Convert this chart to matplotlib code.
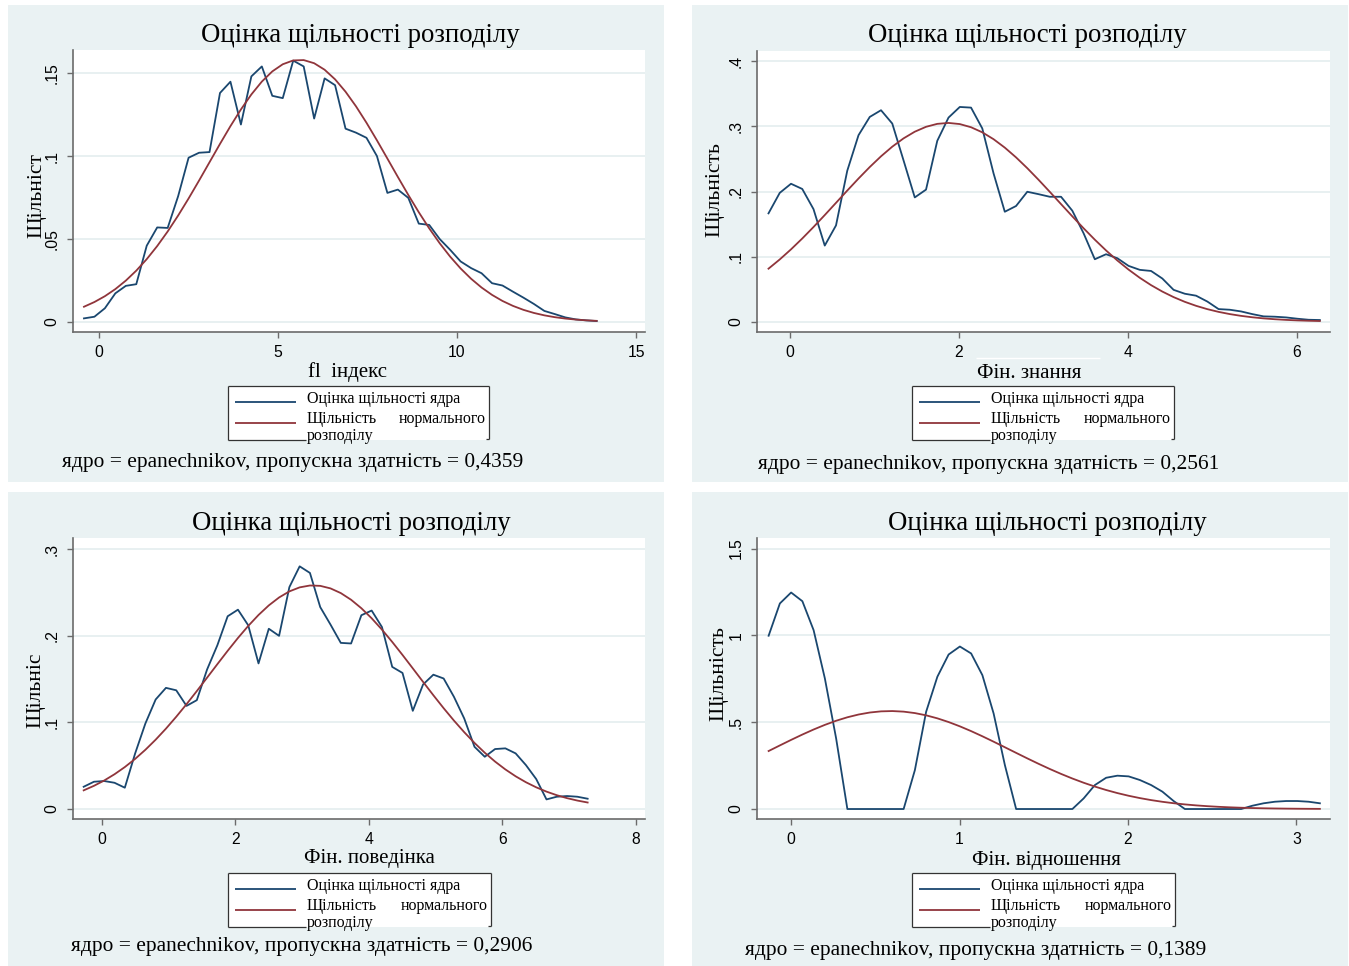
import numpy as np
import matplotlib
matplotlib.use('Agg')
import matplotlib.pyplot as plt
from matplotlib.patches import Rectangle

W, H = 1349, 966
BG = '#eaf2f3'
BLUE = '#1a476f'
RED = '#90353b'
SERIF = 'Liberation Serif'
SANS = 'Liberation Sans'

TITLE = 'Оцінка щільності розподілу'
LEG_KDE = 'Оцінка щільності ядра'
LEG_NORM_1 = 'Щільність'
LEG_NORM_2 = 'нормального'
LEG_NORM_3 = 'розподілу'

# fl index: kernel density on 50 grid points, normal overlay (mean, sd)
fl_grid = (-0.42, 13.9)
fl_kde = [0.0022, 0.0032, 0.0083, 0.0173, 0.0218, 0.0228, 0.046, 0.057, 0.0567, 0.0758,
          0.099, 0.102, 0.1024, 0.138, 0.1448, 0.119, 0.148, 0.154, 0.1363, 0.1349,
          0.1575, 0.154, 0.1226, 0.1468, 0.1427, 0.1165, 0.1141, 0.111, 0.100, 0.0778,
          0.0798, 0.0748, 0.0593, 0.0585, 0.050, 0.0435, 0.0365, 0.0325, 0.0294, 0.0234,
          0.022, 0.0183, 0.0147, 0.0109, 0.0067, 0.0048, 0.0028, 0.0016, 0.001, 0.0006]
fl_norm = (5.6, 2.525)

# financial knowledge
kn_grid = (-0.253, 6.27)
kn_kde = [0.1665, 0.198, 0.212, 0.204, 0.173, 0.117, 0.148, 0.232, 0.2866, 0.3147,
          0.325, 0.3045, 0.248, 0.191, 0.203, 0.278, 0.3137, 0.330, 0.329, 0.297,
          0.228, 0.169, 0.1778, 0.1997, 0.196, 0.192, 0.192, 0.1706, 0.136, 0.096,
          0.1037, 0.0976, 0.0858, 0.0797, 0.078, 0.0664, 0.049, 0.043, 0.040, 0.031,
          0.0194, 0.0184, 0.0158, 0.0117, 0.0082, 0.0077, 0.0066, 0.0046, 0.003, 0.0026]
kn_norm = (1.87, 1.306)

# financial behaviour
bh_grid = (-0.275, 7.28)
bh_kde = [0.0257, 0.0315, 0.0323, 0.0303, 0.0246, 0.064, 0.0987, 0.1264, 0.1398, 0.137,
          0.119, 0.1256, 0.161, 0.189, 0.2224, 0.230, 0.212, 0.168, 0.208, 0.1998,
          0.256, 0.280, 0.2724, 0.233, 0.2128, 0.1917, 0.191, 0.2236, 0.229, 0.210,
          0.164, 0.157, 0.1133, 0.1437, 0.155, 0.1506, 0.1295, 0.1045, 0.0718, 0.0603,
          0.0692, 0.070, 0.0642, 0.0507, 0.0346, 0.0111, 0.0142, 0.015, 0.0142, 0.0119]
bh_norm = (3.17, 1.546)

# financial attitude
at_grid = (-0.134, 3.14)
at_kde = [0.998, 1.184, 1.247, 1.197, 1.030, 0.752, 0.407, 0, 0, 0,
          0, 0, 0, 0.224, 0.56, 0.762, 0.89, 0.936, 0.896, 0.771,
          0.55, 0.253, 0, 0, 0, 0, 0, 0, 0.061, 0.138,
          0.18, 0.192, 0.188, 0.167, 0.138, 0.10, 0.046, 0, 0, 0,
          0, 0, 0, 0.019, 0.033, 0.042, 0.046, 0.046, 0.042, 0.033]
at_norm = (0.59, 0.707)

panels = [
    dict(grid=fl_grid, kde=fl_kde, norm=fl_norm,
         xlabel='fl  індекс', ylabel='Щільніст', bw='0,4359',
         xticks=[0, 5, 10, 15], yticks=[0, .05, .1, .15], ylabels=['0', '.05', '.1', '.15'],
         xlim=(-0.726, 15.25), ylim=(-0.006, 0.1639),
         frame=(8, 5, 664, 482), box=(73, 50, 645, 332),
         title_x=360, title_y=36, xl_x=347, xl_y=372, yl_x=37, yl_y=195,
         note_x=62, note_y=463, leg=(228, 386, 489, 440)),
    dict(grid=kn_grid, kde=kn_kde, norm=kn_norm,
         xlabel='Фін. знання', ylabel='Щільність', bw='0,2561',
         xticks=[0, 2, 4, 6], yticks=[0, .1, .2, .3, .4], ylabels=['0', '.1', '.2', '.3', '.4'],
         xlim=(-0.389, 6.39), ylim=(-0.0158, 0.416),
         frame=(692, 5, 1348, 482), box=(757, 51, 1330, 332),
         title_x=1027, title_y=36, xl_x=1029, xl_y=373, yl_x=715, yl_y=190,
         note_x=758, note_y=464, leg=(912, 386, 1174, 440)),
    dict(grid=bh_grid, kde=bh_kde, norm=bh_norm,
         xlabel='Фін. поведінка', ylabel='Щільніс', bw='0,2906',
         xticks=[0, 2, 4, 6, 8], yticks=[0, .1, .2, .3], ylabels=['0', '.1', '.2', '.3'],
         xlim=(-0.435, 8.14), ylim=(-0.0115, 0.3127),
         frame=(8, 492, 664, 966), box=(73, 538, 645, 819),
         title_x=351, title_y=523, xl_x=369, xl_y=859, yl_x=36, yl_y=690,
         note_x=71, note_y=947, leg=(228, 873, 491, 927)),
    dict(grid=at_grid, kde=at_kde, norm=at_norm,
         xlabel='Фін. відношення', ylabel='Щільність', bw='0,1389',
         xticks=[0, 1, 2, 3], yticks=[0, .5, 1, 1.5], ylabels=['0', '.5', '1', '1.5'],
         xlim=(-0.203, 3.2), ylim=(-0.0575, 1.561),
         frame=(692, 492, 1348, 966), box=(757, 538, 1330, 819),
         title_x=1047, title_y=523, xl_x=1046, xl_y=860, yl_x=719, yl_y=674,
         note_x=745, note_y=951, leg=(912, 873, 1175, 927)),
]

fig = plt.figure(figsize=(W / 100, H / 100), dpi=100, facecolor='white')

# full-figure layer in pixel coordinates for frames, titles, notes and legends
bg = fig.add_axes([0, 0, 1, 1])
bg.set_xlim(0, W)
bg.set_ylim(H, 0)
bg.axis('off')


def line(x0, y0, x1, y1, **kw):
    bg.plot([x0, x1], [y0, y1], solid_capstyle='butt', **kw)


for p in panels:
    fx0, fy0, fx1, fy1 = p['frame']
    bg.add_patch(Rectangle((fx0, fy0), fx1 - fx0, fy1 - fy0, fc=BG, ec='none'))

    bg.text(p['title_x'], p['title_y'], TITLE, family=SERIF, fontsize=19.3,
            ha='center', va='center')
    bg.text(p['xl_x'], p['xl_y'], p['xlabel'], family=SERIF, fontsize=15,
            ha='center', va='center')
    bg.text(p['yl_x'], p['yl_y'], p['ylabel'], family=SERIF, fontsize=15.5,
            ha='center', va='center', rotation=90)
    bg.text(p['note_x'], p['note_y'],
            'ядро = epanechnikov, пропускна здатність = ' + p['bw'],
            family=SERIF, fontsize=15.4, ha='left', va='center')

    # legend box, bottom edge is cut by the last line of text
    lx0, ly0, lx1, ly1 = p['leg']
    bg.add_patch(Rectangle((lx0, ly0), lx1 - lx0, ly1 - ly0, fc='white', ec='none'))
    kw = dict(color='#333333', lw=0.9)
    line(lx0, ly0, lx1, ly0, **kw)
    line(lx0, ly0, lx0, ly1, **kw)
    line(lx1, ly0, lx1, ly1 - 1, **kw)
    line(lx1 - 3, ly1 - 1, lx1, ly1 - 1, **kw)
    line(lx0, ly1, lx0 + 78, ly1, **kw)
    line(lx0 + 7, ly0 + 16, lx0 + 68, ly0 + 16, color=BLUE, lw=1.3)
    line(lx0 + 7, ly0 + 37, lx0 + 68, ly0 + 37, color=RED, lw=1.3)
    tx = lx0 + 79
    bg.text(tx, ly0 + 13, LEG_KDE, family=SERIF, fontsize=11.5, ha='left', va='center')
    bg.text(tx, ly0 + 33, LEG_NORM_1, family=SERIF, fontsize=11.5, ha='left', va='center')
    bg.text(lx1 - 3, ly0 + 33, LEG_NORM_2, family=SERIF, fontsize=11.5, ha='right', va='center')
    bg.text(tx, ly0 + 50, LEG_NORM_3, family=SERIF, fontsize=11.5, ha='left', va='center')

    # plot region
    bx0, by0, bx1, by1 = p['box']
    ax = fig.add_axes([bx0 / W, 1 - by1 / H, (bx1 - bx0) / W, (by1 - by0) / H])
    ax.set_facecolor('white')
    x = np.linspace(p['grid'][0], p['grid'][1], len(p['kde']))
    mu, sd = p['norm']
    normal = np.exp(-0.5 * ((x - mu) / sd) ** 2) / (sd * np.sqrt(2 * np.pi))
    ax.plot(x, p['kde'], color=BLUE, lw=1.3, zorder=3)
    ax.plot(x, normal, color=RED, lw=1.3, zorder=3)
    ax.set_xlim(*p['xlim'])
    ax.set_ylim(*p['ylim'])
    ax.set_xticks(p['xticks'])
    ax.set_xticklabels([str(t) for t in p['xticks']])
    ax.set_yticks(p['yticks'])
    ax.set_yticklabels(p['ylabels'], rotation=90, va='center')
    ax.yaxis.grid(True, color='#e6eff0', lw=1.3)
    ax.set_axisbelow(True)
    for s in ['top', 'right']:
        ax.spines[s].set_visible(False)
    for s in ['left', 'bottom']:
        ax.spines[s].set_color('#6b6b6b')
        ax.spines[s].set_linewidth(1.2)
    ax.tick_params(length=4.5, width=1, color='#6b6b6b', labelsize=11.3, pad=5)
    for lab in ax.get_xticklabels() + ax.get_yticklabels():
        lab.set_family(SANS)

# thin white strip above the knowledge x label
line(976, 358, 1100, 358, color='white', lw=1)

fig.savefig('out.png', dpi=100, facecolor='white')
